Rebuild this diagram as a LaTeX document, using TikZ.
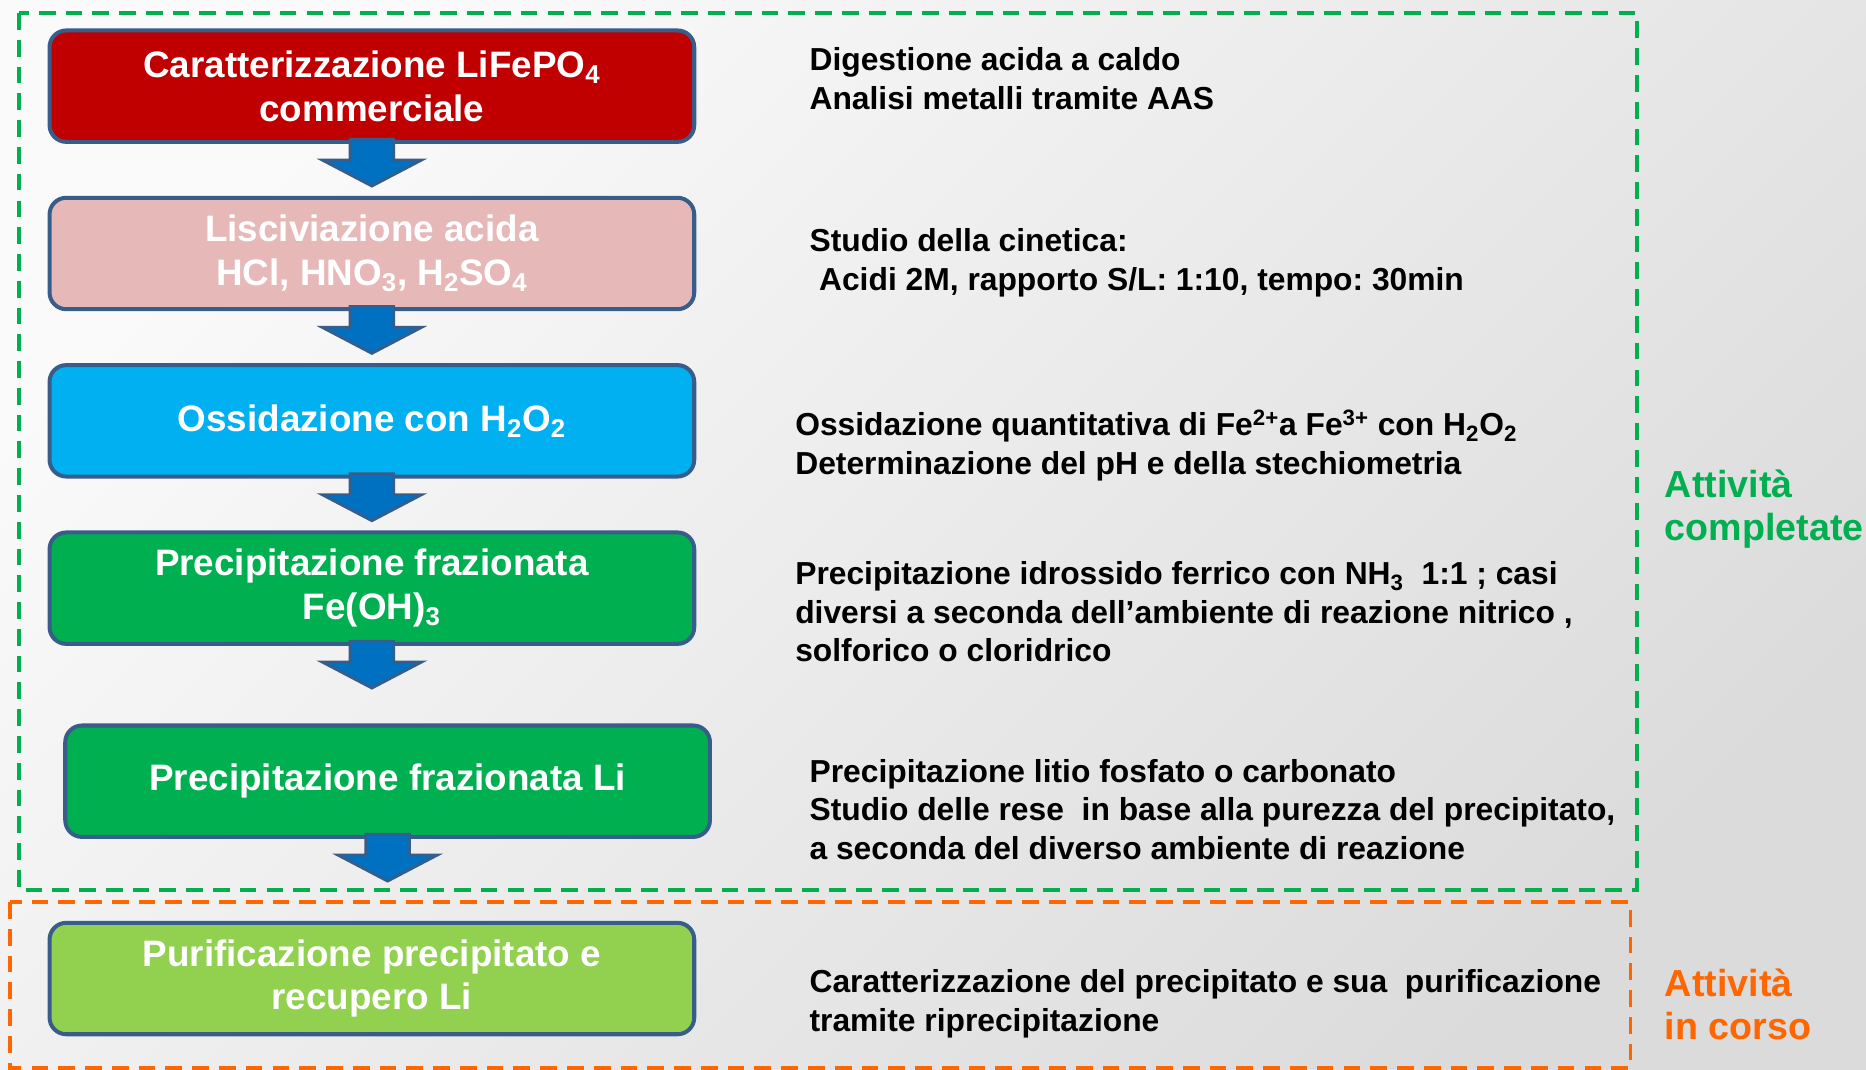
\documentclass[tikz,border=0pt]{standalone}
\usepackage{fontspec}
\setmainfont{Liberation Sans}
\usetikzlibrary{positioning}
\frenchspacing

\definecolor{boxline}{RGB}{56,93,138}
\definecolor{flowblue}{RGB}{0,112,192}
\definecolor{darkred}{RGB}{192,0,0}
\definecolor{pinkred}{RGB}{230,185,184}
\definecolor{skyblue}{RGB}{0,176,240}
\definecolor{leafgreen}{RGB}{0,176,80}
\definecolor{limegreen}{RGB}{146,208,80}
\definecolor{doneorange}{RGB}{255,102,0}

\begin{document}
\begin{tikzpicture}[
    x=0.025cm, y=-0.025cm,
    stage/.style={rectangle, rounded corners=10pt, draw=boxline, line width=2.4pt, minimum width=13.54cm, minimum height=2.34cm, align=center, text=white, font=\fontsize{22}{26}\selectfont\bfseries},
    note/.style={anchor=base west, align=left, inner sep=0pt, font=\fontsize{19}{23}\selectfont\bfseries},
    group/.style={anchor=base west, align=left, inner sep=0pt, font=\fontsize{22.5}{26}\selectfont\bfseries},
    frame/.style={line width=2pt, dash pattern=on 10pt off 6pt},
    flow/.style={draw=boxline, fill=flowblue, line width=1.6pt, to path={++(-18.5,-4) -- ++(0,17.5) -- ++(-23.5,0) -- ++(42,22) -- ++(42,-22) -- ++(-23.5,0) -- ++(0,-17.5) -- cycle}}
]
    \useasboundingbox (0,0) rectangle (1568,899);
    \shade[top color=white!98!black, bottom color=white!86!black, shading angle=45] (0,0) rectangle (1568,899);

    % steps
    \node[stage, fill=darkred] (charact) at (312.5,72.4) {Caratterizzazione LiFePO\textsubscript{4}\\commerciale};
    \node[stage, fill=pinkred, below=1.09cm of charact] (leach) {Lisciviazione acida\\HCl, HNO\textsubscript{3}, H\textsubscript{2}SO\textsubscript{4}};
    \node[stage, fill=skyblue, below=1.09cm of leach] (oxid) {Ossidazione con H\textsubscript{2}O\textsubscript{2}};
    \node[stage, fill=leafgreen, below=1.09cm of oxid] (precfe) {Precipitazione frazionata\\Fe(OH)\textsubscript{3}};
    \node[stage, fill=leafgreen, below=1.63cm of precfe, xshift=0.33cm] (precli) {Precipitazione frazionata Li};
    \node[stage, fill=limegreen, below=1.72cm of precli, xshift=-0.33cm] (purif) {Purificazione precipitato e\\recupero Li};

    \draw[flow] (charact.south) to (leach.north);
    \draw[flow] (leach.south) to (oxid.north);
    \draw[flow] (oxid.south) to (precfe.north);
    \draw[flow] (precfe.south) to (precli.north);
    \draw[flow] (precli.south) to (purif.north);

    % notes (anchored at the baseline of the last line)
    \node[note] (digest) at (680,91.7) {Digestione acida a caldo\\Analisi metalli tramite AAS};
    \node[note] (kinetic) at (680,243.7) {Studio della cinetica:\\\hspace*{0.3em}Acidi 2M, rapporto S/L: 1:10, tempo: 30min};
    \node[note] (quant) at (668,398.7) {Ossidazione quantitativa di Fe\textsuperscript{2+}a Fe\textsuperscript{3+} con H\textsubscript{2}O\textsubscript{2}\\Determinazione del pH e della stechiometria};
    \node[note] (hydrox) at (668,556) {Precipitazione idrossido ferrico con NH\textsubscript{3}\ \ 1:1 ; casi\\diversi a seconda dell’ambiente di reazione nitrico ,\\solforico o cloridrico};
    \node[note] (lithium) at (680,722) {Precipitazione litio fosfato o carbonato\\Studio delle rese\ \ in base alla purezza del precipitato,\\a seconda del diverso ambiente di reazione};
    \node[note] (repurif) at (680,866.7) {Caratterizzazione del precipitato e sua\ \ purificazione\\tramite riprecipitazione};

    % groups
    \draw[frame, leafgreen] (16,11) rectangle (1375.5,748);
    \draw[frame, doneorange] (8.5,758) rectangle (1370,897.5);
    \node[group, text=leafgreen] (done) at (1398.8,454.6) {Attività\\completate};
    \node[group, text=doneorange] (ongoing) at (1398.8,873.6) {Attività\\in corso};
\end{tikzpicture}
\end{document}
